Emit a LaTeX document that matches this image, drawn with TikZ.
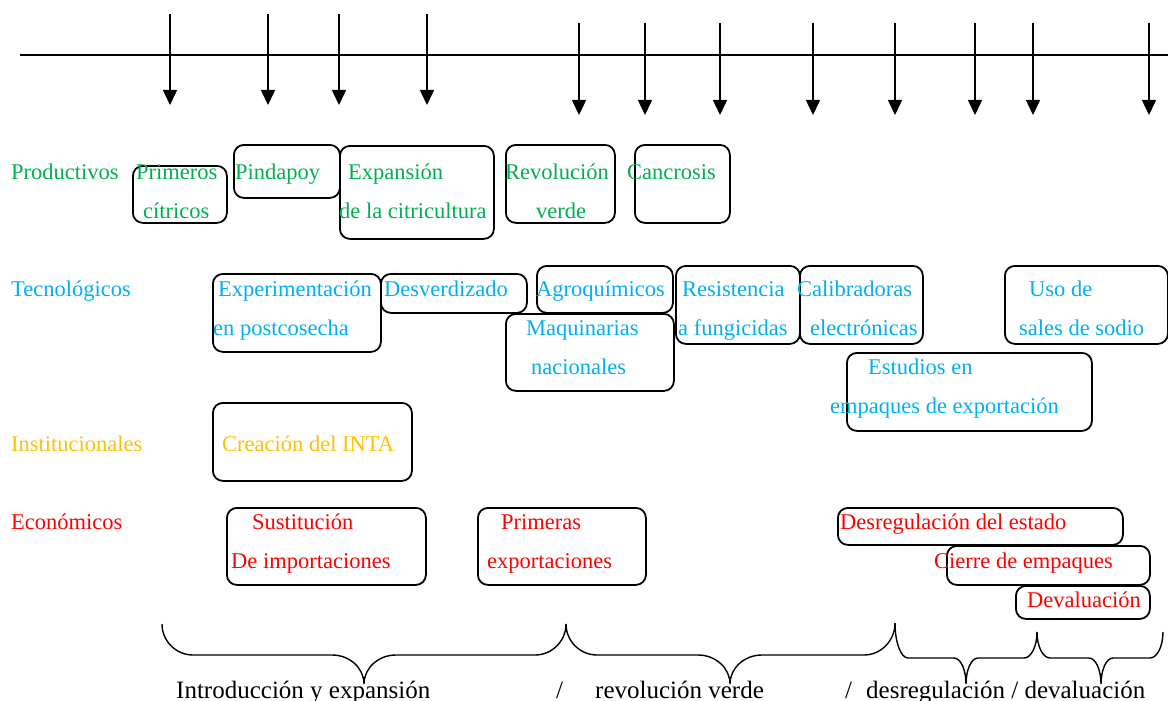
\documentclass[tikz,border=0pt]{standalone}
\usepackage{fontspec}
\setmainfont{Liberation Serif}
\usetikzlibrary{arrows.meta}
\definecolor{cgreen}{RGB}{0,176,80}
\definecolor{cblue}{RGB}{0,176,240}
\definecolor{cgold}{RGB}{255,192,0}
\definecolor{cred}{RGB}{255,0,0}
\newcommand\fsz{\fontsize{22.5}{27}\selectfont}
\newcommand\fbig{\fontsize{25}{30}\selectfont}
\begin{document}
\begin{tikzpicture}[x=1pt,y=-1pt,
  box/.style={draw=black,rounded corners=10pt,line width=1.8pt,inner sep=0pt,anchor=north west},
  txt/.style={anchor=base west,inner sep=0pt,font=\fsz},
  btxt/.style={anchor=base west,inner sep=0pt,font=\fbig},
  tl/.style={line width=1.7pt},
  arr/.style={line width=1.5pt,-{Triangle[length=15pt,width=14pt]}},
  brc/.style={line width=1.4pt}]
\useasboundingbox (0,0) rectangle (1168,701);
% timeline
\coordinate (L0) at (20,55);
\coordinate (L1) at (1168,55);
\draw[tl] (L0) -- (L1);
\foreach \x [count=\i] in {170,268,339,427}{
  \coordinate (a\i) at (\x,14);
  \coordinate (ah\i) at (\x,105);
  \draw[arr] (a\i) -- (ah\i);
}
\foreach \x [count=\i] in {579,645,720,813,895,975,1033,1149}{
  \coordinate (b\i) at (\x,23);
  \coordinate (bh\i) at (\x,115);
  \draw[arr] (b\i) -- (bh\i);
}
% row labels
\node[txt,text=cgreen] (lp) at (11,179) {Productivos};
\node[txt,text=cblue] (lt) at (11,296) {Tecnológicos};
\node[txt,text=cgold] (li) at (11,451) {Institucionales};
\node[txt,text=cred] (le) at (11,529) {Económicos};
% Productivos boxes
\node[box,minimum width=94pt,minimum height=57pt] (p1) at (132,165) {};
\node[box,minimum width=106pt,minimum height=53pt] (p2) at (233,144) {};
\node[box,minimum width=154pt,minimum height=93pt] (p3) at (339,145) {};
\node[box,minimum width=109pt,minimum height=78pt] (p4) at (505,144) {};
\node[box,minimum width=95pt,minimum height=78pt] (p5) at (634,144) {};
\begin{scope}[every node/.style={txt,text=cgreen}]
\node (p1a) at (136,179) {Primeros};
\node (p1b) at (143,218) {cítricos};
\node (p2a) at (235,179) {Pindapoy};
\node (p3a) at (348,179) {Expansión};
\node (p3b) at (339,218) {de la citricultura};
\node (p4a) at (505,179) {Revolución};
\node (p4b) at (536,218) {verde};
\node (p5a) at (627,179) {Cancrosis};
\end{scope}
% Tecnologicos boxes
\node[box,minimum width=168pt,minimum height=78pt] (t1) at (212,273) {};
\node[box,minimum width=146pt,minimum height=39pt] (t2) at (380,273) {};
\node[box,minimum width=136pt,minimum height=47pt] (t3) at (536,265) {};
\node[box,minimum width=168pt,minimum height=77pt] (t4) at (505,313) {};
\node[box,minimum width=124pt,minimum height=78pt] (t5) at (675,265) {};
\node[box,minimum width=123pt,minimum height=78pt] (t6) at (799,265) {};
\node[box,minimum width=163pt,minimum height=78pt] (t7) at (1004,265) {};
\node[box,minimum width=245pt,minimum height=78pt] (t8) at (846,352) {};
\begin{scope}[every node/.style={txt,text=cblue}]
\node (t1a) at (218,296) {Experimentación};
\node (t1b) at (213,335) {en postcosecha};
\node (t2a) at (384,296) {Desverdizado};
\node (t3a) at (536,296) {Agroquímicos};
\node (t4a) at (526,335) {Maquinarias};
\node (t4b) at (531,374) {nacionales};
\node (t5a) at (682,296) {Resistencia};
\node (t5b) at (678,335) {a fungicidas};
\node (t6a) at (797,296) {Calibradoras};
\node (t6b) at (810,335) {electrónicas};
\node (t7a) at (1029,296) {Uso de};
\node (t7b) at (1019,335) {sales de sodio};
\node (t8a) at (868,374) {Estudios en};
\node (t8b) at (830,413) {empaques de exportación};
\end{scope}
% Institucionales
\node[box,minimum width=199pt,minimum height=78pt] (i1) at (212,402) {};
\node[txt,text=cgold] (i1a) at (222,451) {Creación del INTA};
% Economicos
\node[box,minimum width=199pt,minimum height=77pt] (e1) at (226,507) {};
\node[box,minimum width=168pt,minimum height=77pt] (e2) at (477,507) {};
\node[box,minimum width=285pt,minimum height=37pt] (e3) at (837,507) {};
\node[box,minimum width=203pt,minimum height=39pt] (e4) at (946,545) {};
\node[box,minimum width=134pt,minimum height=33pt] (e5) at (1015,585) {};
\begin{scope}[every node/.style={txt,text=cred}]
\node (e1a) at (252,529) {Sustitución};
\node (e1b) at (231,568) {De importaciones};
\node (e2a) at (501,529) {Primeras};
\node (e2b) at (487,568) {exportaciones};
\node (e3a) at (840,529) {Desregulación del estado};
\node (e4a) at (934,568) {Cierre de empaques};
\node (e5a) at (1027,607) {Devaluación};
\end{scope}
% braces: a/ta/m/b/tb/h/r/q/tip
\foreach \a/\ta/\m/\b/\tb/\h/\r/\q/\tip in {
  162/624/364/566/624/655/31/32/684,
  566/624/730/895/623/655/31/32/684,
  895/623/966/1037/632/658/13/12/684,
  1037/632/1101/1163/632/658/13/12/684}{
  \draw[brc] (\a,\ta) .. controls (\a,{\ta+0.55*(\h-\ta)}) and ({\a+0.45*\r},\h) .. ({\a+\r},\h)
    -- ({\m-\q},\h) .. controls ({\m-0.45*\q},\h) and (\m,{\h+0.45*(\tip-\h)}) .. (\m,\tip)
    .. controls (\m,{\h+0.45*(\tip-\h)}) and ({\m+0.45*\q},\h) .. ({\m+\q},\h)
    -- ({\b-\r},\h) .. controls ({\b-0.45*\r},\h) and (\b,{\tb+0.55*(\h-\tb)}) .. (\b,\tb);
}
% bottom labels
\node[btxt] (s1) at (176,698) {Introducción y expansión};
\node[btxt] (s2) at (556,698) {/};
\node[btxt] (s3) at (595,698) {revolución verde};
\node[btxt] (s4) at (845,698) {/};
\node[btxt] (s5) at (866,698) {desregulación / devaluación};
\end{tikzpicture}
\end{document}
